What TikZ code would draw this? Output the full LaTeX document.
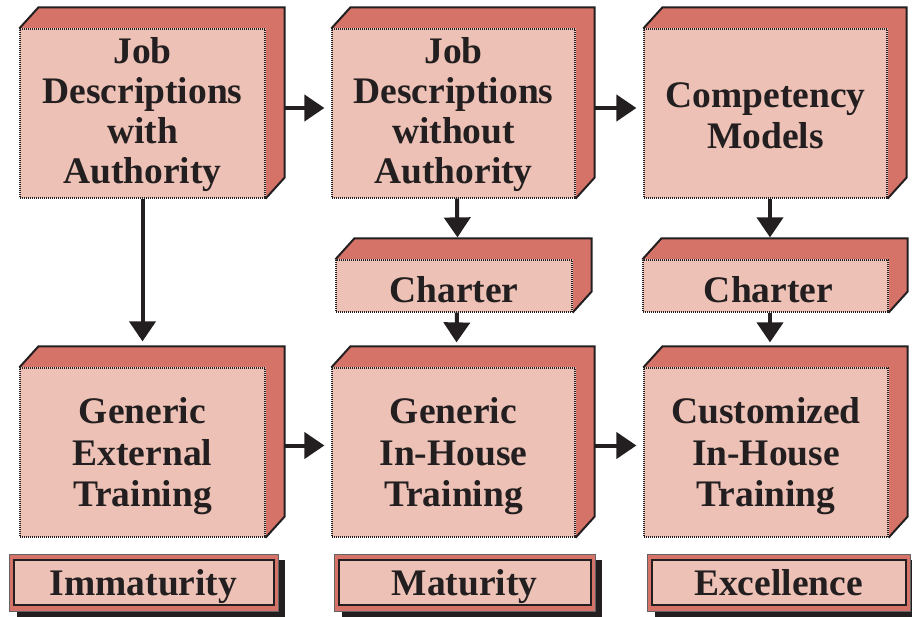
\documentclass[tikz,border=0pt]{standalone}
\usepackage{fontspec}
\setmainfont{Liberation Serif}
\usetikzlibrary{arrows.meta,backgrounds}
\definecolor{frontcol}{RGB}{237,193,181}
\definecolor{sidecol}{RGB}{213,115,105}
\definecolor{inkcol}{RGB}{35,31,32}
\tikzset{
  x=1pt,y=-1pt,
  face/.style={fill=frontcol,draw=inkcol,line width=1.2pt,dash pattern=on 1pt off 1pt,
    inner sep=0pt},
  txt/.style={inner sep=0pt,align=center,text=inkcol,
    font=\bfseries\fontsize{37.5}{41.5}\selectfont},
  txttop/.style={txt,font=\bfseries\fontsize{37.5}{40}\selectfont},
  arr/.style={draw=inkcol,line width=4pt,-{Triangle[length=20pt,width=26pt]}},
  tag/.style={inner sep=0pt,anchor=base,text=inkcol,font=\bfseries\fontsize{37.5}{41}\selectfont}
}
\newcommand{\threed}[1]{%
  \begin{scope}[on background layer]
    \fill[sidecol] (#1.north west) -- ([shift={(19,-21)}]#1.north west)
      -- ([shift={(19,-21)}]#1.north east) -- ([shift={(19,-21)}]#1.south east)
      -- (#1.south east) -- (#1.north east) -- cycle;
    \draw[inkcol,line width=2pt,line join=miter] (#1.north west) -- ([shift={(19,-21)}]#1.north west)
      -- ([shift={(19,-21)}]#1.north east) -- ([shift={(19,-21)}]#1.south east)
      -- (#1.south east);
  \end{scope}}
\newcommand{\stage}[6]{% name, x1, y1, x2, y2, text
  \fill[inkcol] (#2+8,#3+6) rectangle (#4+7,#5+6);
  \fill[sidecol,draw=inkcol!70,line width=0.8pt] (#2,#3) rectangle (#4,#5);
  \draw[fill=frontcol,draw=inkcol,line width=2pt] (#2+4.5,#3+6) rectangle (#4-4.5,#5-6);
  \node[tag] (#1) at ({(#2+#4)/2},595) {#6};}
\begin{document}
\begin{tikzpicture}
\useasboundingbox (0,0) rectangle (912,617);
% top row
\node[face,minimum width=245pt,minimum height=169pt] (b1) at (142.5,113.5) {};
\node[face,minimum width=243pt,minimum height=169pt] (b2) at (453.5,113.5) {};
\node[face,minimum width=243pt,minimum height=169pt] (b3) at (765.5,113.5) {};
% charters
\node[face,minimum width=236pt,minimum height=52pt] (c2) at (454,286) {};
\node[face,minimum width=245pt,minimum height=52pt] (c3) at (765.5,286) {};
% bottom row
\node[face,minimum width=245pt,minimum height=169pt] (g1) at (142.5,452.5) {};
\node[face,minimum width=243pt,minimum height=169pt] (g2) at (453.5,452.5) {};
\node[face,minimum width=244pt,minimum height=169pt] (g3) at (766,452.5) {};
\foreach \n in {b1,b2,b3,c2,c3,g1,g2,g3} {\threed{\n}}
% texts
\node[txttop] (b1t) at ([yshift=-1.5pt]b1.center) {Job\\Descriptions\\with\\Authority};
\node[txttop] (b2t) at ([yshift=-1.5pt]b2.center) {Job\\Descriptions\\without\\Authority};
\node[txt] (b3t) at ([yshift=-2.5pt]b3.center) {Competency\\Models};
\node[txt] (c2t) at ([yshift=-4pt]c2.center) {Charter};
\node[txt] (c3t) at ([xshift=3pt,yshift=-4pt]c3.center) {Charter};
\node[txt] (g1t) at ([yshift=-4pt]g1.center) {Generic\\External\\Training};
\node[txt] (g2t) at ([yshift=-4pt]g2.center) {Generic\\In-House\\Training};
\node[txt] (g3t) at ([yshift=-4pt]g3.center) {Customized\\In-House\\Training};
% arrows
\draw[arr] ([shift={(19,-5.5)}]b1.east) -- ([shift={(-7,-5.5)}]b2.west);
\draw[arr] ([shift={(19,-5.5)}]b2.east) -- ([shift={(-7,-5.5)}]b3.west);
\draw[arr] ([shift={(19,-7)}]g1.east) -- ([shift={(-7,-7)}]g2.west);
\draw[arr] ([shift={(19,-7)}]g2.east) -- ([shift={(-7,-7)}]g3.west);
\draw[arr] (b1.south) -- ([shift={(0,-26)}]g1.north);
\draw[arr] ([xshift=3.5pt]b2.south) -- ([shift={(3.5,-22)}]c2.north);
\draw[arr] ([xshift=3pt]c2.south) -- ([shift={(3,-25)}]g2.north);
\draw[arr] ([xshift=4.5pt]b3.south) -- ([shift={(4.5,-22)}]c3.north);
\draw[arr] ([xshift=4.5pt]c3.south) -- ([shift={(4,-25)}]g3.north);
% stages
\stage{s1}{9}{554}{278}{611}{Immaturity}
\stage{s2}{334}{554}{595}{611}{Maturity}
\stage{s3}{647}{554}{910}{611}{Excellence}
\end{tikzpicture}
\end{document}
